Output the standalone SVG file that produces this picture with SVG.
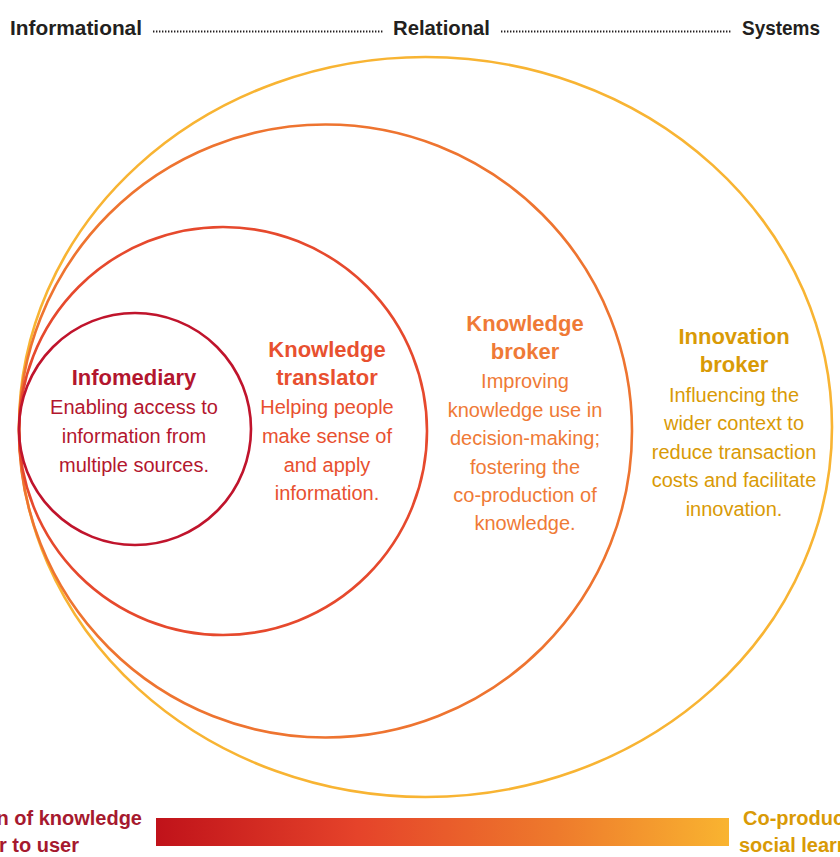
<svg xmlns="http://www.w3.org/2000/svg" width="840" height="857" viewBox="0 0 840 857">
<style>
  .hdr{font-family:"Liberation Sans",Arial,sans-serif;font-weight:bold;font-size:21px;fill:#231F20}
  .ttl{font-family:"Liberation Sans",Arial,sans-serif;font-weight:bold;font-size:22px;text-anchor:middle}
  .body{font-family:"Liberation Sans",Arial,sans-serif;font-size:20px;text-anchor:middle}
  .ring{fill:none;stroke-width:2.6}
  .dots{stroke:#231F20;stroke-width:2;stroke-dasharray:1.4 1.6;fill:none}
  .foot{font-family:"Liberation Sans",Arial,sans-serif;font-weight:bold;font-size:20px}
</style>
<defs>
  <linearGradient id="spectrum" x1="0" y1="0" x2="1" y2="0">
    <stop offset="0" stop-color="#C0121A"/>
    <stop offset="0.35" stop-color="#E5432A"/>
    <stop offset="0.7" stop-color="#EE7A2C"/>
    <stop offset="1" stop-color="#F9B430"/>
  </linearGradient>
</defs>
<rect width="840" height="857" fill="#FFFFFF"/>

<g id="header">
  <text class="hdr" x="10" y="35" textLength="132" lengthAdjust="spacingAndGlyphs">Informational</text>
  <text class="hdr" x="393" y="35" textLength="97" lengthAdjust="spacingAndGlyphs">Relational</text>
  <text class="hdr" x="742" y="35" textLength="78" lengthAdjust="spacingAndGlyphs">Systems</text>
</g>

<g id="connectors">
  <line class="dots" x1="153" y1="31.5" x2="384" y2="31.5"/>
  <line class="dots" x1="501" y1="31.5" x2="732" y2="31.5"/>
</g>

<g id="innovation-broker">
  <ellipse class="ring" cx="425.5" cy="427" rx="406.5" ry="370" stroke="#F8B433"/>
  <text class="ttl" fill="#D99A06" x="734" y="344">Innovation</text>
  <text class="ttl" fill="#D99A06" x="734" y="372">broker</text>
  <text class="body" fill="#D99A06" x="734" y="402">Influencing the</text>
  <text class="body" fill="#D99A06" x="734" y="430">wider context to</text>
  <text class="body" fill="#D99A06" x="734" y="459">reduce transaction</text>
  <text class="body" fill="#D99A06" x="734" y="487">costs and facilitate</text>
  <text class="body" fill="#D99A06" x="734" y="516">innovation.</text>
</g>

<g id="knowledge-broker">
  <circle class="ring" cx="325.5" cy="431" r="306.5" stroke="#EE7430"/>
  <text class="ttl" fill="#EF7A36" x="525" y="331">Knowledge</text>
  <text class="ttl" fill="#EF7A36" x="525" y="359">broker</text>
  <text class="body" fill="#EF7A36" x="525" y="388">Improving</text>
  <text class="body" fill="#EF7A36" x="525" y="417">knowledge use in</text>
  <text class="body" fill="#EF7A36" x="525" y="445">decision-making;</text>
  <text class="body" fill="#EF7A36" x="525" y="474">fostering the</text>
  <text class="body" fill="#EF7A36" x="525" y="502">co-production of</text>
  <text class="body" fill="#EF7A36" x="525" y="530">knowledge.</text>
</g>

<g id="knowledge-translator">
  <circle class="ring" cx="223" cy="431" r="204" stroke="#E6492D"/>
  <text class="ttl" fill="#E8502F" x="327" y="357">Knowledge</text>
  <text class="ttl" fill="#E8502F" x="327" y="385">translator</text>
  <text class="body" fill="#E8502F" x="327" y="414">Helping people</text>
  <text class="body" fill="#E8502F" x="327" y="443">make sense of</text>
  <text class="body" fill="#E8502F" x="327" y="472">and apply</text>
  <text class="body" fill="#E8502F" x="327" y="500">information.</text>
</g>

<g id="infomediary">
  <circle class="ring" cx="135" cy="429" r="116" stroke="#C0142C"/>
  <text class="ttl" fill="#B3162E" x="134" y="385">Infomediary</text>
  <text class="body" fill="#B3162E" x="134" y="414">Enabling access to</text>
  <text class="body" fill="#B3162E" x="134" y="443">information from</text>
  <text class="body" fill="#B3162E" x="134" y="472">multiple sources.</text>
</g>

<g id="spectrum-bar">
  <rect x="156" y="818" width="573" height="28" fill="url(#spectrum)"/>
  <text class="foot" fill="#A6192E" x="142" y="825" text-anchor="end">n of knowledge</text>
  <text class="foot" fill="#A6192E" x="79" y="852" text-anchor="end">r to user</text>
  <text class="foot" fill="#D99A06" x="743" y="825">Co-produc</text>
  <text class="foot" fill="#D99A06" x="739" y="852">social learn</text>
</g>
</svg>
